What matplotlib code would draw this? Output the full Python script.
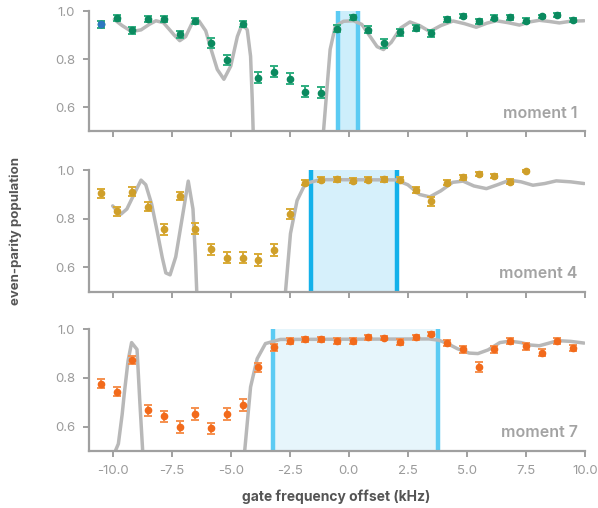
import numpy as np
import matplotlib as mlp
mlp.use('Agg')
import matplotlib.pyplot as plt

plt.rcParams['font.family'] = ['Inter', 'DejaVu Sans']

# ---- data ----
x_pts = -10.5 + np.arange(31) * (2.0 / 3.0)

m1_y = [0.945, 0.973, 0.921, 0.967, 0.967, 0.903, 0.959, 0.867, 0.797, 0.945,
        0.723, 0.748, 0.719, 0.664, 0.660, 0.927, 0.974, 0.923, 0.866, 0.912,
        0.931, 0.908, 0.966, 0.981, 0.958, 0.973, 0.974, 0.960, 0.978, 0.984, 0.963]
m1_err = [0.014, 0.012, 0.015, 0.012, 0.012, 0.016, 0.012, 0.02, 0.022, 0.012,
          0.022, 0.022, 0.022, 0.022, 0.022, 0.015, 0.01, 0.014, 0.018, 0.015,
          0.012, 0.014, 0.011, 0.008, 0.01, 0.009, 0.009, 0.01, 0.008, 0.008, 0.01]

m4_y = [0.904, 0.830, 0.912, 0.850, 0.757, 0.894, 0.759, 0.674, 0.640, 0.640,
        0.630, 0.670, 0.820, 0.949, 0.960, 0.963, 0.956, 0.960, 0.963, 0.960,
        0.918, 0.872, 0.949, 0.970, 0.986, 0.977, 0.953, 0.997]
m4_err = [0.018, 0.02, 0.018, 0.02, 0.022, 0.018, 0.022, 0.024, 0.024, 0.024,
          0.024, 0.024, 0.02, 0.012, 0.01, 0.01, 0.01, 0.01, 0.01, 0.01,
          0.014, 0.018, 0.012, 0.01, 0.008, 0.009, 0.011, 0.005]

m7_y = [0.777, 0.744, 0.874, 0.667, 0.642, 0.600, 0.653, 0.593, 0.653, 0.690,
        0.843, 0.925, 0.951, 0.959, 0.958, 0.953, 0.951, 0.967, 0.964, 0.947,
        0.967, 0.979, 0.944, 0.918, 0.844, 0.917, 0.951, 0.929, 0.904, 0.951, 0.923]
m7_err = [0.02, 0.02, 0.018, 0.024, 0.024, 0.024, 0.024, 0.024, 0.024, 0.024,
          0.02, 0.016, 0.012, 0.01, 0.01, 0.012, 0.012, 0.01, 0.01, 0.012,
          0.01, 0.008, 0.012, 0.014, 0.02, 0.014, 0.012, 0.014, 0.014, 0.012, 0.014]

# theory curves (gray)
m1_cx = [-9.93, -9.6, -9.2, -8.8, -8.45, -8.17, -7.85, -7.4, -7.16, -6.91, -6.63,
         -6.35, -6.06, -5.83, -5.57, -5.29, -5.0, -4.72, -4.51, -4.3, -4.16, -4.09,
         -4.05, -4.0, -1.15, -1.07, -0.79, -0.57, -0.22, 0.2, 0.55, 0.9, 1.2, 1.47,
         1.8, 2.2, 2.59, 3.0, 3.43, 3.9, 4.42, 4.9, 5.4, 5.85, 6.25, 6.75, 7.23,
         7.65, 8.07, 8.5, 8.92, 9.4, 9.97]
m1_cy = [0.965, 0.94, 0.915, 0.922, 0.945, 0.96, 0.952, 0.901, 0.877, 0.894, 0.952,
         0.96, 0.918, 0.84, 0.757, 0.716, 0.771, 0.894, 0.948, 0.922, 0.812, 0.634,
         0.5, 0.3, 0.3, 0.5, 0.84, 0.937, 0.958, 0.96, 0.945, 0.895, 0.852, 0.84,
         0.87, 0.93, 0.955, 0.94, 0.915, 0.94, 0.959, 0.948, 0.933, 0.95, 0.96, 0.952,
         0.942, 0.955, 0.962, 0.957, 0.951, 0.958, 0.96]

m4_cx = [-10.0, -9.8, -9.65, -9.4, -9.1, -8.8, -8.6, -8.35, -8.1, -7.9, -7.75,
         -7.57, -7.33, -7.05, -6.8, -6.6, -6.5, -6.44, -6.35, -2.75, -2.68, -2.47,
         -2.19, -1.84, -1.2, 2.0, 2.5, 3.0, 3.43, 3.9, 4.4, 4.84, 5.3, 5.83, 6.3,
         6.82, 7.3, 7.8, 8.3, 8.79, 9.4, 9.97]
m4_cy = [0.853, 0.83, 0.819, 0.84, 0.9, 0.959, 0.94, 0.86, 0.74, 0.64, 0.577,
         0.569, 0.643, 0.807, 0.955, 0.84, 0.65, 0.5, 0.3, 0.3, 0.5, 0.739,
         0.875, 0.945, 0.961, 0.96, 0.94, 0.9, 0.89, 0.915, 0.95, 0.955, 0.935,
         0.924, 0.94, 0.959, 0.952, 0.938, 0.945, 0.956, 0.952, 0.945]

m7_cx = [-10.0, -9.89, -9.76, -9.6, -9.51, -9.35, -9.2, -8.97, -8.85, -8.73, -8.65,
         -4.5, -4.41, -4.16, -3.88, -3.53, -2.9, 3.4, 3.8, 4.14, 4.6, 5.1, 5.47,
         5.9, 6.4, 6.82, 7.3, 7.7, 8.07, 8.45, 8.85, 9.4, 9.97]
m7_cy = [0.3, 0.5, 0.53, 0.65, 0.736, 0.87, 0.945, 0.917, 0.7, 0.5, 0.3,
         0.3, 0.5, 0.763, 0.879, 0.941, 0.958, 0.96, 0.955, 0.943, 0.92, 0.902, 0.9,
         0.915, 0.945, 0.951, 0.945, 0.935, 0.932, 0.942, 0.953, 0.95, 0.943]

bands = [(-0.45, 0.4), (-1.6, 2.05), (-3.2, 3.8)]
labels = ['moment 1', 'moment 4', 'moment 7']
x_ticks = [-10.0, -7.5, -5.0, -2.5, 0.0, 2.5, 5.0, 7.5, 10.0]
y_ticks = [0.6, 0.8, 1.0]

# ---- styling ----
marker_cols = ['#0b8a5f', '#cf9f2a', '#f26a1b']
err_cols = ['#2fae80', '#d9ab35', '#f5904f']
band_fill = ['#cdeefb', '#d6f0fb', '#e6f5fb']
band_edge = ['#5ccbf3', '#13b1ea', '#5ccbf3']
gray = '#9b9b9b'

fig = plt.figure(figsize=(5.98, 5.08), dpi=100)
rects = [[0.149, 0.742, 0.829, 0.236],
         [0.149, 0.426, 0.829, 0.239],
         [0.149, 0.112, 0.829, 0.240]]

series = [(m1_y, m1_err, m1_cx, m1_cy), (m4_y, m4_err, m4_cx, m4_cy),
          (m7_y, m7_err, m7_cx, m7_cy)]

for i, (ys, es, cx, cy) in enumerate(series):
    ax = fig.add_axes(rects[i])
    lo, hi = bands[i]
    ax.axvspan(lo, hi, ymin=0, ymax=1, color=band_fill[i], lw=0, zorder=0)
    ax.axvline(lo, color=band_edge[i], lw=3.2, zorder=1)
    ax.axvline(hi, color=band_edge[i], lw=3.2, zorder=1)
    ax.plot(cx, cy, color='#b8b8b8', lw=2.5, zorder=2, solid_capstyle='round')
    n = len(ys)
    xs = x_pts[:n]
    ax.errorbar(xs, ys, yerr=es, fmt='o', color=marker_cols[i], ecolor=err_cols[i],
                elinewidth=1.4, capsize=3.2, capthick=1.4, markersize=4.5,
                zorder=3, clip_on=False)
    if i == 0:
        # first point of moment 1 is drawn in blue
        ax.plot(xs[0], ys[0], 'o', color='#2c78c0', markersize=4.5, zorder=4)
    ax.set_xlim(-11, 10)
    ax.set_ylim(0.5, 1.0)
    ax.set_xticks(x_ticks)
    ax.set_yticks(y_ticks)
    ax.set_yticklabels(['0.6', '0.8', '1.0'])
    if i < 2:
        ax.set_xticklabels([])
    else:
        ax.set_xticklabels(['%.1f' % t for t in x_ticks])
    for s in ['top', 'right']:
        ax.spines[s].set_visible(False)
    for s in ['left', 'bottom']:
        ax.spines[s].set_color('#a0a0a0')
        ax.spines[s].set_linewidth(1.6)
    ax.tick_params(colors='#a0a0a0', labelcolor=gray, labelsize=9.5,
                   length=4, width=1.4, pad=6)
    ax.text(0.985, 0.15, labels[i], transform=ax.transAxes, ha='right',
            va='center', fontsize=11.5, color='#a3a3a3', fontweight='semibold')

fig.text(0.026, 0.545, 'even-parity population', rotation=90, ha='center',
         va='center', fontsize=9.5, fontweight='bold', color='#555555')
fig.text(0.563, 0.022, 'gate frequency offset (kHz)', ha='center', va='center',
         fontsize=10, fontweight='bold', color='#555555')

fig.savefig('out.png', dpi=100)
